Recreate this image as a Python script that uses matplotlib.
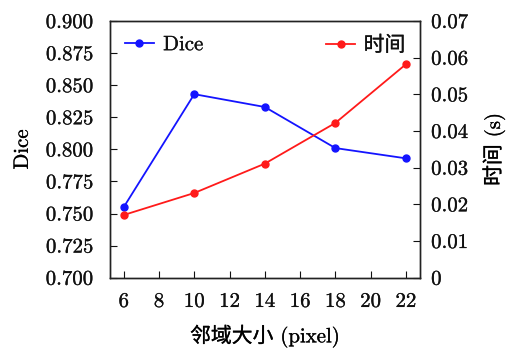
import matplotlib.pyplot as plt
import matplotlib.patheffects as pe
from matplotlib.ticker import FixedLocator, FuncFormatter

plt.rcParams['font.family'] = ['cmr10', 'Noto Sans CJK SC', 'DejaVu Sans']
plt.rcParams['axes.formatter.use_mathtext'] = True
plt.rcParams['font.size'] = 15
plt.rcParams['text.color'] = '#111111'
plt.rcParams['xtick.color'] = '#111111'
plt.rcParams['ytick.color'] = '#111111'

# neighbourhood size vs. Dice score and run time
sizes = [6, 10, 14, 18, 22]
dice = [0.755, 0.843, 0.833, 0.801, 0.793]
run_time = [0.0171, 0.0231, 0.0311, 0.0422, 0.0582]

x_ticks = [6, 8, 10, 12, 14, 16, 18, 20, 22]
dice_ticks = [0.700, 0.725, 0.750, 0.775, 0.800, 0.825, 0.850, 0.875, 0.900]
time_ticks = [0, 0.01, 0.02, 0.03, 0.04, 0.05, 0.06, 0.07]

fig = plt.figure(figsize=(5.13, 3.49), dpi=100)
ax = fig.add_axes([0.2144, 0.2043, 0.6043, 0.7355])
ax2 = ax.twinx()

ax.plot(sizes, dice, color='#1414ff', marker='o', markersize=5, linewidth=1.3, label='Dice')
ax2.plot(sizes, run_time, color='#ff1a1a', marker='o', markersize=5, linewidth=1.3, label='时间')

ax.set_xlim(5.22, 22.8)
ax.set_ylim(0.7, 0.9)
ax2.set_ylim(0, 0.07)

ax.xaxis.set_major_locator(FixedLocator(x_ticks))
ax.yaxis.set_major_locator(FixedLocator(dice_ticks))
ax2.yaxis.set_major_locator(FixedLocator(time_ticks))
ax.xaxis.set_major_formatter(FuncFormatter(lambda v, p: f'{v:.0f}'))
ax.yaxis.set_major_formatter(FuncFormatter(lambda v, p: f'{v:.3f}'))
ax2.yaxis.set_major_formatter(FuncFormatter(lambda v, p: '0' if v == 0 else f'{v:.2f}'))

ax.tick_params(axis='y', direction='in', length=5, width=0.8, pad=12)
ax.tick_params(axis='x', direction='in', length=5, width=0.8, pad=11)
ax2.tick_params(axis='y', direction='in', length=5, width=0.8, pad=8)
for a in (ax, ax2):
    for s in a.spines.values():
        s.set_linewidth(1.0)
        s.set_color('#222222')

ax.set_xlabel('邻域大小 (pixel)', labelpad=10, fontweight='light')
ax.set_ylabel('Dice', labelpad=10)
ax2.set_ylabel('时间 (s)', labelpad=10, fontweight='light')

leg1 = ax.legend(loc='upper left', frameon=False, handlelength=1.4,
                 handletextpad=0.45, borderaxespad=0.3)
leg2 = ax2.legend(loc='upper right', frameon=False, handlelength=1.4,
                  handletextpad=0.4, borderaxespad=0.3, prop={'weight': 'light'})

# a little weight on the thin serif glyphs
thick = [pe.withStroke(linewidth=0.2, foreground='#111111')]
texts = (ax.get_xticklabels() + ax.get_yticklabels() + ax2.get_yticklabels()
         + [ax.xaxis.label, ax.yaxis.label, ax2.yaxis.label]
         + leg1.get_texts() + leg2.get_texts())
for t in texts:
    t.set_path_effects(thick)

fig.savefig('out.png', dpi=100)
